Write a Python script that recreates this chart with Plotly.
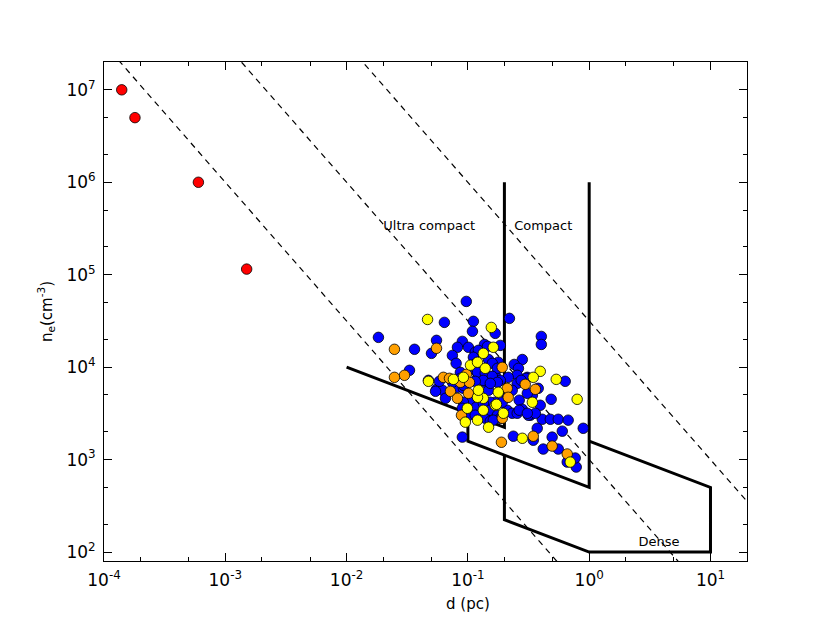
import plotly.graph_objects as go

# Red sources (d in pc, n_e in cm^-3)
red_d = [1.4e-4, 1.8e-4, 6.0e-4, 1.5e-3]
red_n = [1.0e7, 5.0e6, 1.0e6, 1.15e5]

# Blue sources
blue_d = [0.097, 0.064, 0.111, 0.109, 0.0183, 0.0363, 0.0551, 0.0501, 0.090, 0.082,
          0.101, 0.0745, 0.080, 0.115, 0.033, 0.0867, 0.115, 0.220, 0.168, 0.403,
          0.403, 0.137, 0.185, 0.122, 0.281, 0.241, 0.261, 0.148, 0.178, 0.634,
          0.309, 0.255, 0.215, 0.168, 0.132, 0.303, 0.380, 0.255, 0.232, 0.486,
          0.395, 0.265, 0.211, 0.232, 0.281, 0.327, 0.410, 0.478, 0.556, 0.671,
          0.120, 0.139, 0.159, 0.185, 0.340, 0.148, 0.168, 0.109, 0.115, 0.145,
          0.255, 0.139, 0.315, 0.360, 0.893, 0.373, 0.237, 0.346, 0.495, 0.600,
          0.418, 0.556, 0.659, 0.782, 0.767, 0.111, 0.117, 0.145, 0.159, 0.175,
          0.275, 0.309, 0.211, 0.265, 0.309, 0.0473, 0.120, 0.139, 0.159, 0.175,
          0.134, 0.115, 0.153, 0.0551, 0.0617, 0.082, 0.0918, 0.0653, 0.105, 0.153,
          0.192, 0.0918, 0.090, 0.117, 0.134, 0.153, 0.175, 0.185, 0.099, 0.115,
          0.153, 0.0582, 0.0745, 0.0867, 0.0541, 0.0918, 0.090, 0.162]
blue_n = [51400, 30500, 31300, 24400, 21000, 15600, 19500, 14100, 19000, 16400,
          16400, 13400, 11000, 14500, 9240, 8790, 9240, 33700, 23200, 21500,
          17600, 17600, 17200, 15200, 12100, 10700, 9710, 12100, 11300, 7030,
          7760, 8160, 7760, 8160, 8570, 7570, 5900, 6680, 5620, 4490,
          3870, 4390, 3420, 3170, 3500, 3020, 2730, 2730, 2730, 2670,
          7570, 6850, 7760, 7200, 4960, 5620, 4170, 4600, 3590, 3870,
          3170, 2800, 3020, 3170, 2180, 2180, 1790, 1620, 1750, 2030,
          1300, 1300, 940, 830, 1040, 12800, 11000, 16800, 11000, 9710,
          7200, 5210, 4720, 3420, 3170, 7200, 8790, 8570, 7960, 6850,
          7200, 7030, 6680, 5760, 5620, 6050, 5900, 4600, 4390, 4170,
          4170, 4170, 3590, 3680, 4060, 3420, 3020, 2800, 2940, 3020,
          2600, 7030, 6850, 7570, 5480, 6360, 1750, 2670]

# Orange sources
orange_d = [0.0248, 0.0551, 0.030, 0.0248, 0.0628, 0.0705, 0.0972, 0.192, 0.297, 0.360,
            0.211, 0.215, 0.192, 0.346, 0.189, 0.495, 0.659, 0.0867, 0.103, 0.0718,
            0.101, 0.082, 0.0885]
orange_n = [15600, 16000, 8160, 7760, 7760, 7570, 8360, 9950, 6520, 5760,
            5900, 4720, 2800, 1790, 1540, 1400, 1150, 6850, 6850, 5480,
            5210, 4600, 3020]

# Yellow sources
yellow_d = [0.0465, 0.105, 0.120, 0.0473, 0.156, 0.162, 0.134, 0.139, 0.395, 0.535,
            0.346, 0.796, 0.340, 0.178, 0.134, 0.120, 0.168, 0.134, 0.120, 0.148,
            0.281, 0.698, 0.076, 0.0918, 0.172, 0.099, 0.196, 0.0953, 0.122]
yellow_n = [32800, 10500, 11300, 7030, 26900, 16400, 14100, 9710, 9010, 7380,
            7760, 4490, 4170, 5350, 4600, 4720, 3870, 3420, 2670, 2240,
            1700, 940, 7380, 7760, 3960, 3590, 3170, 2540, 5620]

# dashed lines (n_e ~ d^-1.5), given by end points
dash_d = [1e-4, 100]
dash1_n = [3.16e7, 3.16e-2]
dash2_n = [1e9, 1.0]
dash3_n = [3.16e10, 31.6]

# region boundaries
uc_d = [0.01, 0.2, 0.2]
uc_n = [1e4, 2236, 1e6]
comp_d = [0.1, 0.1, 1, 1]
comp_n = [3162, 1581, 500, 1e6]
dense_d = [0.2, 0.2, 1, 10, 10, 1]
dense_n = [1118, 224, 100, 100, 500, 1581]

region_labels = ["Ultra compact", "Compact", "Dense"]
label_d = [0.048, 0.418, 3.77]
label_n = [3.3e5, 3.3e5, 125]

xtick_vals = [1e-4, 1e-3, 1e-2, 1e-1, 1, 10]
xtick_text = ["10<sup>-4</sup>", "10<sup>-3</sup>", "10<sup>-2</sup>", "10<sup>-1</sup>",
              "10<sup>0</sup>", "10<sup>1</sup>"]
ytick_vals = [1e2, 1e3, 1e4, 1e5, 1e6, 1e7]
ytick_text = ["10<sup>2</sup>", "10<sup>3</sup>", "10<sup>4</sup>", "10<sup>5</sup>",
              "10<sup>6</sup>", "10<sup>7</sup>"]

fig = go.Figure()

for nn in [dash1_n, dash2_n, dash3_n]:
    fig.add_trace(go.Scatter(x=dash_d, y=nn, mode="lines",
                             line=dict(color="black", width=1.2, dash="6px,5px")))

for dd, nn in [(uc_d, uc_n), (comp_d, comp_n), (dense_d, dense_n)]:
    fig.add_trace(go.Scatter(x=dd, y=nn, mode="lines",
                             line=dict(color="black", width=3)))

mk = dict(size=10.5, line=dict(color="black", width=0.8))
fig.add_trace(go.Scatter(x=red_d, y=red_n, mode="markers", marker=dict(mk, color="#ff0000")))
fig.add_trace(go.Scatter(x=blue_d, y=blue_n, mode="markers", marker=dict(mk, color="#0000ff")))
fig.add_trace(go.Scatter(x=orange_d, y=orange_n, mode="markers", marker=dict(mk, color="#ffa000")))
fig.add_trace(go.Scatter(x=yellow_d, y=yellow_n, mode="markers", marker=dict(mk, color="#ffff00")))

fig.add_trace(go.Scatter(x=label_d, y=label_n, mode="text", text=region_labels,
                         textfont=dict(size=13, color="black")))

axis_common = dict(type="log", showgrid=False, zeroline=False, showline=True,
                   linecolor="black", linewidth=1, mirror="allticks",
                   ticks="inside", ticklen=8, tickcolor="black",
                   tickfont=dict(size=17, color="black"),
                   minor=dict(ticks="inside", ticklen=4, tickcolor="black", showgrid=False))

fig.update_xaxes(axis_common, range=[-4, 1.301], tickvals=xtick_vals, ticktext=xtick_text,
                 ticklabelstandoff=4)
fig.update_yaxes(axis_common, range=[1.903, 7.301], tickvals=ytick_vals, ticktext=ytick_text,
                 ticklabelstandoff=4,
                 title=dict(text="n<sub>e</sub>(cm<sup>-3</sup>)", font=dict(size=15, color="black"),
                            standoff=10))

# x label sits under the 10^-1 tick in the original
fig.add_annotation(text="d (pc)", x=-1, xref="x", y=-0.086, yref="paper",
                   showarrow=False, font=dict(size=15, color="black"), yanchor="middle")

# the page adds 8px around the figure, so the margins are shifted to compensate
fig.update_layout(width=830, height=623, showlegend=False,
                  margin=dict(l=96, r=91, t=54, b=70),
                  plot_bgcolor="white", paper_bgcolor="white",
                  font=dict(family="DejaVu Sans"))

fig.write_html("out.html")
